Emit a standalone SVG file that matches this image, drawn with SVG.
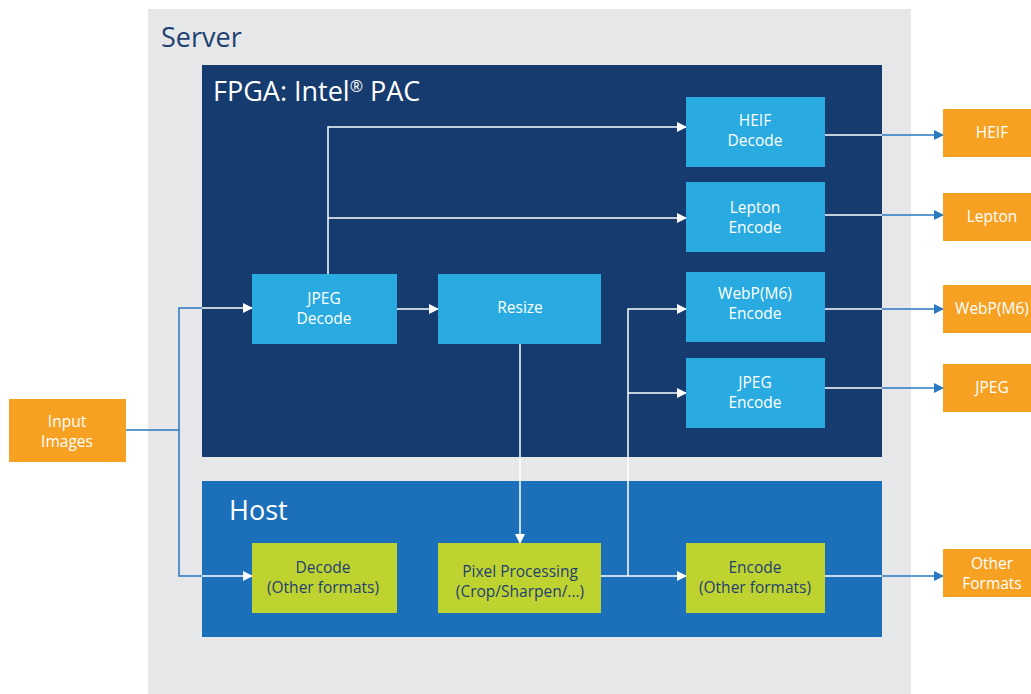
<svg xmlns="http://www.w3.org/2000/svg" width="1031" height="694" viewBox="0 0 1031 694">
<defs>
<style>
.lbl{font-family:"Open Sans","Noto Sans",sans-serif;font-size:15.5px;text-anchor:middle}
.w{fill:#ffffff}
.d{fill:#1f3f70}
.title{font-family:"Open Sans","Noto Sans",sans-serif;font-size:27px}
.fpga{fill:#29abe2}
.host{fill:#bfd330}
.out{fill:#f7a123}
.cw{stroke:#ffffff;stroke-width:1.5;fill:none}
.cb{stroke:#2a78c0;stroke-width:1.5;fill:none}
</style>
<marker id="aw" markerWidth="10" markerHeight="10" refX="9" refY="5" orient="auto" markerUnits="userSpaceOnUse"><path d="M0,0 L10,5 L0,10 Z" fill="#ffffff"/></marker>
<marker id="ab" markerWidth="10" markerHeight="10" refX="9" refY="5" orient="auto" markerUnits="userSpaceOnUse"><path d="M0,0 L10,5 L0,10 Z" fill="#2a78c0"/></marker>
</defs>
<rect width="1031" height="694" fill="#ffffff"/>
<g id="server"><rect x="148" y="9" width="763" height="685" fill="#e6e7e9"/><text class="title" x="161" y="47" fill="#1f3f70">Server</text></g>
<g id="fpga"><rect x="202" y="65" width="680" height="392" fill="#163b6e"/><text class="title" x="213" y="101" fill="#ffffff">FPGA: Intel<tspan font-size="16" dy="-9">®</tspan><tspan dy="9"> PAC</tspan></text></g>
<g id="host"><rect x="202" y="481" width="680" height="156" fill="#1b70b9"/><text class="title" x="229" y="520" fill="#ffffff">Host</text></g>
<g id="connectors">
<path class="cb" d="M126,430 H179 V576 H202"/>
<path class="cb" d="M179,430 V308 H202"/>
<path class="cw" d="M202,308 H252" marker-end="url(#aw)"/>
<path class="cw" d="M202,576 H252" marker-end="url(#aw)"/>
<path class="cw" d="M328,274 V127 H686" marker-end="url(#aw)"/>
<path class="cw" d="M328,218 H686" marker-end="url(#aw)"/>
<path class="cw" d="M397,309 H438" marker-end="url(#aw)"/>
<path class="cw" d="M520,344 V543" marker-end="url(#aw)"/>
<path class="cw" d="M601,576 H686" marker-end="url(#aw)"/>
<path class="cw" d="M628,576 V309 H686" marker-end="url(#aw)"/>
<path class="cw" d="M628,393 H686" marker-end="url(#aw)"/>
<path class="cw" d="M825,135 H882"/><path class="cb" d="M882,135 H943" marker-end="url(#ab)"/>
<path class="cw" d="M825,215 H882"/><path class="cb" d="M882,215 H943" marker-end="url(#ab)"/>
<path class="cw" d="M825,309 H882"/><path class="cb" d="M882,309 H943" marker-end="url(#ab)"/>
<path class="cw" d="M825,388 H882"/><path class="cb" d="M882,388 H943" marker-end="url(#ab)"/>
<path class="cw" d="M825,576 H882"/><path class="cb" d="M882,576 H943" marker-end="url(#ab)"/>
</g>
<g id="jpeg-decode"><rect class="fpga" x="252" y="274" width="145" height="70"/><text class="lbl w" x="324" y="304">JPEG</text><text class="lbl w" x="324" y="324">Decode</text></g>
<g id="resize"><rect class="fpga" x="438" y="274" width="163" height="70"/><text class="lbl w" x="520" y="313">Resize</text></g>
<g id="heif-decode"><rect class="fpga" x="686" y="97" width="139" height="70"/><text class="lbl w" x="755" y="126">HEIF</text><text class="lbl w" x="755" y="146">Decode</text></g>
<g id="lepton-encode"><rect class="fpga" x="686" y="182" width="139" height="70"/><text class="lbl w" x="755" y="213">Lepton</text><text class="lbl w" x="755" y="233">Encode</text></g>
<g id="webp-encode"><rect class="fpga" x="686" y="272" width="139" height="70"/><text class="lbl w" x="755" y="299">WebP(M6)</text><text class="lbl w" x="755" y="319">Encode</text></g>
<g id="jpeg-encode"><rect class="fpga" x="686" y="358" width="139" height="70"/><text class="lbl w" x="755" y="388">JPEG</text><text class="lbl w" x="755" y="408">Encode</text></g>
<g id="decode-other"><rect class="host" x="252" y="543" width="145" height="70"/><text class="lbl d" x="323" y="573">Decode</text><text class="lbl d" x="323" y="593">(Other formats)</text></g>
<g id="pixel-processing"><rect class="host" x="438" y="543" width="163" height="70"/><text class="lbl d" x="520" y="577">Pixel Processing</text><text class="lbl d" x="520" y="597">(Crop/Sharpen/...)</text></g>
<g id="encode-other"><rect class="host" x="686" y="543" width="139" height="70"/><text class="lbl d" x="755" y="573">Encode</text><text class="lbl d" x="755" y="593">(Other formats)</text></g>
<g id="input-images"><rect class="out" x="9" y="399" width="117" height="63"/><text class="lbl w" x="67" y="427">Input</text><text class="lbl w" x="67" y="447">Images</text></g>
<g id="out-heif"><rect class="out" x="943" y="109" width="88" height="48"/><text class="lbl w" x="992" y="138">HEIF</text></g>
<g id="out-lepton"><rect class="out" x="943" y="193" width="88" height="48"/><text class="lbl w" x="992" y="222">Lepton</text></g>
<g id="out-webp"><rect class="out" x="943" y="285" width="88" height="48"/><text class="lbl w" x="992" y="314">WebP(M6)</text></g>
<g id="out-jpeg"><rect class="out" x="943" y="364" width="88" height="48"/><text class="lbl w" x="992" y="393">JPEG</text></g>
<g id="out-other"><rect class="out" x="943" y="549" width="88" height="48"/><text class="lbl w" x="992" y="569">Other</text><text class="lbl w" x="992" y="589">Formats</text></g>
</svg>
